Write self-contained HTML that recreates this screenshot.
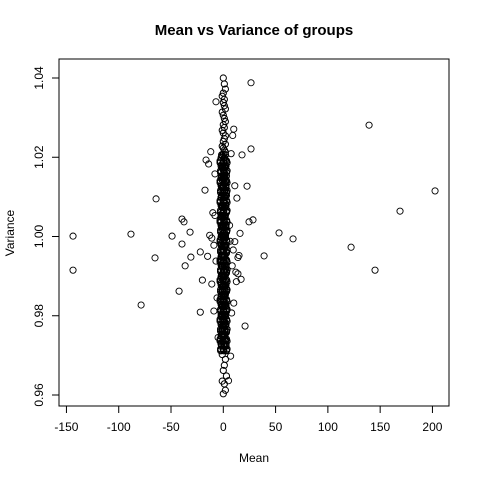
<!DOCTYPE html>
<html><head><meta charset="utf-8"><style>
html,body{margin:0;padding:0;background:#fff;}
svg{display:block;font-family:"Liberation Sans",Arial,sans-serif;}
</style></head><body>
<svg id="chart" width="480" height="480">
<text x="254" y="35" text-anchor="middle" font-size="15" font-weight="bold">Mean vs Variance of groups</text>
<rect x="59" y="59" width="390" height="347" fill="none" stroke="#000" stroke-width="1"/>
<text x="254" y="462" text-anchor="middle" font-size="12">Mean</text>
<text transform="translate(14,233) rotate(-90)" text-anchor="middle" font-size="12">Variance</text>
<g id="axes"></g>
<g id="points"></g>
</svg>
<script>
const xTicks=[-150,-100,-50,0,50,100,150,200];
const yTicks=[0.96,0.98,1.00,1.02,1.04];
const outX=[-143.7,-143.7,-88.3,-78.6,-64.3,-65.3,-49,-39.5,-37.6,-39.5,-31.8,-36.5,-42.3,-31,-22,-20,-22,-17.5,-16.5,-15,26.5,26.5,22.7,17.9,24.6,28.4,20.8,39,53.3,66.7,122.2,139.4,145.1,169,202.5,8.5,11,14,12.5,9.5,17,15,6.5,16,13,7.5,10,-8,-10,-12,-9,-14,-7,-11,-6,10,8,-9,12,-13,5,-5,7,-7,9,-8,11,14,-11,6];
const outY=[1.0001,0.9915,1.0006,0.9827,1.0095,0.9946,1.0001,1.0044,1.0037,0.9981,1.0011,0.9926,0.9862,0.9948,0.9961,0.9890,0.9809,1.0117,1.0193,0.9950,1.0388,1.0221,1.0127,1.0206,1.0037,1.0042,0.9774,0.9951,1.0009,0.9994,0.9973,1.0281,0.9915,1.0064,1.0115,0.9926,0.9987,0.9906,0.9886,0.9966,0.9892,0.9952,0.9988,1.0008,1.0097,1.0209,1.0271,1.0053,1.0060,1.0214,0.9978,1.0183,0.9938,0.9880,0.9845,0.9832,0.9807,0.9812,0.9910,1.0003,0.9636,0.9745,0.9698,1.0340,1.0255,1.0158,1.0128,0.9947,0.9996,1.0028];
const denseX=[0,2,1,-1,3,0,1,2,-1,0,1,-2,2,0,1,3,-1,0,2,1,-1,0,2,-2,1,0,3,-1,2,0,1,-2,0,2,1,-1,3,0,1,-2,2,0,1,-1,3,0,2,-1,1,0,-2,2,1,0,3,-1,0,2,1,-2,0,1,2,-1,0,3,1,-1,2,0,-2,1,0,2,-1,3,0,1,-1,2,0,1,-2,3,0,1,2,-1,0,1,2,-1,0,3,1,-2,0,2,1,-1,0,2,1,-1,0,2,1,0,-1,2,0,1,2,0,-1,1,0,2,1,0,-1,2,1,0,1,-1,0,2,1,0];
const denseY=[0.9603,0.9612,0.9628,0.9635,0.9648,0.9662,0.9675,0.9690,0.9702,0.9715,0.9722,0.9730,0.9738,0.9745,0.9752,0.9758,0.9764,0.9770,0.9776,0.9781,0.9787,0.9792,0.9798,0.9803,0.9808,0.9813,0.9818,0.9823,0.9828,0.9833,0.9838,0.9843,0.9848,0.9853,0.9858,0.9863,0.9868,0.9873,0.9878,0.9883,0.9888,0.9893,0.9898,0.9903,0.9908,0.9913,0.9918,0.9923,0.9928,0.9933,0.9938,0.9943,0.9948,0.9953,0.9958,0.9963,0.9968,0.9973,0.9978,0.9983,0.9988,0.9993,0.9998,1.0003,1.0008,1.0013,1.0018,1.0023,1.0028,1.0033,1.0038,1.0043,1.0048,1.0053,1.0058,1.0063,1.0068,1.0073,1.0078,1.0083,1.0088,1.0093,1.0098,1.0103,1.0108,1.0113,1.0118,1.0123,1.0128,1.0133,1.0138,1.0143,1.0148,1.0153,1.0158,1.0163,1.0168,1.0173,1.0178,1.0183,1.0188,1.0193,1.0198,1.0203,1.0208,1.0213,1.0218,1.0223,1.0228,1.0233,1.0240,1.0247,1.0254,1.0261,1.0268,1.0275,1.0282,1.0290,1.0298,1.0306,1.0314,1.0322,1.0330,1.0338,1.0346,1.0354,1.0362,1.0372,1.0385,1.0400,1.0415];
const coreX=[-2.5,3.5,-1.5,2.5,-3,3,-2,1.5,-2.5,3.5,-1,2.5,-3,3,-2,2,-2.5,3.5,-1.5,2.5,-3,3,-2,1.5,-2.5,3.5,-1,2.5,-3,3,-2,2,-2.5,3.5,-1.5,2.5,-3,3,-2,1.5,-2.5,3.5,-1,2.5,-3,3,-2,2,-2.5,3.5,-1.5,2.5,-3,3,-2,1.5,-2.5,3.5,-1,2.5,-3,3,-2,2,-2.5,3.5,-1.5,2.5,-3,3,-2,1.5,-2.5,3.5,-1,2.5,-3,3,-2,2];
const core2X=[3,-2.5,2.5,-2,3.5,-3,1.5,-1.5,3,-2.5,2,-2,3.5,-3,1,-1.5,3,-2.5,2.5,-2,3.5,-3,1.5,-1.5,3,-2.5,2,-2,3.5,-3,1,-1.5,3,-2.5,2.5,-2,3.5,-3,1.5,-1.5,3,-2.5,2,-2,3.5,-3,1,-1.5,3,-2.5,2.5,-2,3.5,-3,1.5,-1.5,3,-2.5,2,-2,3.5,-3,1,-1.5,3,-2.5,2.5,-2,3.5,-3,1.5,-1.5,3,-2.5,2,-2,3.5,-3,1,-1.5];
const core3X=[0.5,0,1,0.5,-0.5,1,0,0.5,1,-0.5,0.5,0,1,0.5,-0.5,1,0,0.5,1,-0.5,0.5,0,1,0.5,-0.5,1,0,0.5,1,-0.5,0.5,0,1,0.5,-0.5,1,0,0.5,1,-0.5,0.5,0,1,0.5,-0.5,1,0,0.5,1,-0.5,0.5,0,1,0.5,-0.5,1,0,0.5,1,-0.5,0.5,0,1,0.5,-0.5,1,0,0.5,1,-0.5,0.5,0,1,0.5,-0.5,1,0,0.5];
const coreY=[0.9712,0.9716,0.9724,0.9728,0.9736,0.9741,0.9749,0.9753,0.9761,0.9766,0.9774,0.9778,0.9786,0.9791,0.9799,0.9803,0.9811,0.9816,0.9824,0.9828,0.9836,0.9841,0.9849,0.9853,0.9861,0.9866,0.9874,0.9878,0.9886,0.9891,0.9899,0.9903,0.9911,0.9916,0.9924,0.9928,0.9936,0.9941,0.9949,0.9953,0.9961,0.9966,0.9974,0.9978,0.9986,0.9991,0.9999,1.0003,1.0011,1.0016,1.0024,1.0028,1.0036,1.0041,1.0049,1.0053,1.0061,1.0066,1.0074,1.0078,1.0086,1.0091,1.0099,1.0103,1.0111,1.0116,1.0124,1.0128,1.0136,1.0141,1.0149,1.0153,1.0161,1.0166,1.0174,1.0178,1.0186,1.0191,1.0199,1.0206];
const NS="http://www.w3.org/2000/svg";
function sx(v){return 223.3+v*(366/350);}
function sy(v){return 78+(1.04-v)*3962.5;}
const axes=document.getElementById('axes');
function mk(tag,attrs,parent){const e=document.createElementNS(NS,tag);for(const k in attrs)e.setAttribute(k,attrs[k]);parent.appendChild(e);return e;}
mk('line',{x1:sx(-150),x2:sx(200),y1:406,y2:406,stroke:'#000'},axes);
xTicks.forEach(t=>{
  const l=mk('line',{x1:sx(t),x2:sx(t),y1:406,y2:413,stroke:'#000'},axes);
  
  
  const tx=mk('text',{x:sx(t),y:431,'text-anchor':'middle','font-size':12},axes);
  tx.textContent=t;
  
  
});
mk('line',{x1:59,x2:59,y1:sy(0.96),y2:sy(1.04),stroke:'#000'},axes);
yTicks.forEach(t=>{
  const l=mk('line',{x1:52,x2:59,y1:sy(t),y2:sy(t),stroke:'#000'},axes);
  
  
  const tx=mk('text',{'text-anchor':'middle','font-size':12,transform:'translate(43,'+sy(t)+') rotate(-90)'},axes);
  tx.textContent=t.toFixed(2);
  
  
});
const pts=document.getElementById('points');
function drawPts(xs,ys,sw){
  xs.forEach((x,i)=>{
    const c=mk('circle',{cx:sx(x),cy:sy(ys[i]),r:3.1,fill:'none',stroke:'#000','stroke-width':sw},pts);
    
    
  });
}
drawPts(denseX,denseY,1);
drawPts(coreX,coreY,1.2);
drawPts(core2X,coreY,1.2);
drawPts(core3X,coreY,1.2);
drawPts(outX,outY,0.9);
</script>
</body></html>
